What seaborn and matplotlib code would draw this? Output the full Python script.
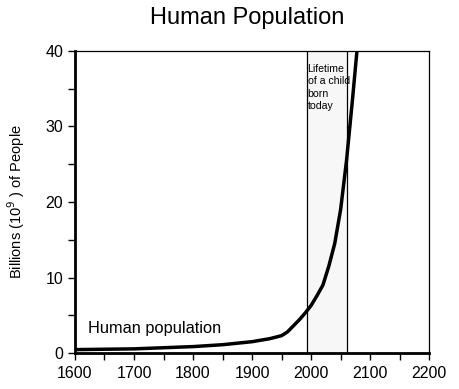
import matplotlib
matplotlib.use("Agg")
import matplotlib.pyplot as plt
import seaborn as sns
import pandas as pd

years = [1600, 1650, 1700, 1750, 1800, 1850, 1900, 1930, 1950, 1960, 1970, 1980,
         1990, 2000, 2010, 2020, 2030, 2040, 2050, 2060, 2070, 2080]
population = [0.45, 0.5, 0.55, 0.7, 0.85, 1.1, 1.5, 1.9, 2.3, 2.8, 3.6, 4.4,
              5.3, 6.3, 7.6, 9.0, 11.5, 14.5, 19.0, 25.5, 33.5, 42.0]
lifetime_start = 1993
lifetime_end = 2061
x_ticks = [1600, 1700, 1800, 1900, 2000, 2100, 2200]
y_ticks = [0, 10, 20, 30, 40]

sns.set_theme(style="ticks")
plt.rcParams['font.family'] = ['Liberation Sans', 'DejaVu Sans']
plt.rcParams['text.color'] = 'black'
plt.rcParams['axes.labelcolor'] = 'black'
plt.rcParams['xtick.color'] = 'black'
plt.rcParams['ytick.color'] = 'black'

df = pd.DataFrame({"year": years, "pop": population})

fig = plt.figure(figsize=(4.6, 3.89), dpi=100)
ax = fig.add_axes([0.163, 0.0925, 0.77, 0.7765])

ax.axvspan(lifetime_start, lifetime_end, color="#f7f7f7", zorder=0)
ax.axvline(lifetime_start, color="black", lw=0.9, zorder=1)
ax.axvline(lifetime_end, color="black", lw=0.9, zorder=1)

sns.lineplot(data=df, x="year", y="pop", ax=ax, color="black", lw=2.5, zorder=3)

ax.set_xlim(1600, 2200)
ax.set_ylim(0, 40)
ax.set_xticks(x_ticks)
ax.set_yticks(y_ticks)
ax.set_xticks(range(1650, 2200, 100), minor=True)
ax.set_yticks(range(5, 40, 10), minor=True)
ax.tick_params(axis="both", which="major", labelsize=11.5, length=5, width=1, direction="out", color="black")
ax.tick_params(axis="both", which="minor", length=5, width=1, direction="out", color="black")
ax.tick_params(axis="x", pad=4)
ax.set_xlabel("")
ax.set_ylabel("Billions (10$^9$ ) of People", fontsize=10.5, labelpad=13)

for side in ["top", "right"]:
    ax.spines[side].set_visible(True)
    ax.spines[side].set_linewidth(0.9)
for side in ["left", "bottom"]:
    ax.spines[side].set_linewidth(2.0)
for s in ax.spines.values():
    s.set_color("black")

ax.text(1622, 3.3, "Human population", fontsize=11.8, va="center", ha="left")
ax.text(lifetime_start + 1.0, 38.3, "Lifetime\nof a child\nborn\ntoday", fontsize=7.6,
        va="top", ha="left", linespacing=1.32)

fig.text(0.537, 0.953, "Human Population", fontsize=17, ha="center", va="center")

fig.savefig("out.png", dpi=100)
